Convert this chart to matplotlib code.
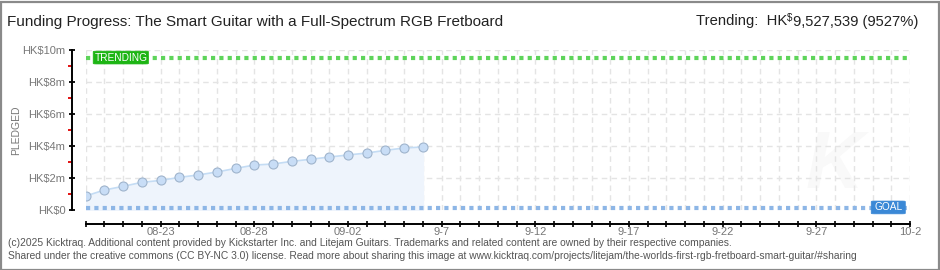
import matplotlib
matplotlib.use("Agg")
import matplotlib.pyplot as plt
import matplotlib.dates as mdates
from matplotlib.patches import FancyBboxPatch
import datetime as dt

# Daily pledged totals (HK$ millions)
dates = ["2025-08-19", "2025-08-20", "2025-08-21", "2025-08-22", "2025-08-23",
         "2025-08-24", "2025-08-25", "2025-08-26", "2025-08-27", "2025-08-28",
         "2025-08-29", "2025-08-30", "2025-08-31", "2025-09-01", "2025-09-02",
         "2025-09-03", "2025-09-04", "2025-09-05", "2025-09-06"]
pledged_m = [0.875, 1.25, 1.48, 1.73, 1.85, 2.04, 2.19, 2.375, 2.60, 2.81,
             2.875, 3.04, 3.17, 3.31, 3.44, 3.56, 3.73, 3.875, 3.94]
goal_m = 0.1
trending_m = 9.527539
start_date = "2025-08-19"
end_date = "2025-10-02"
ytick_vals = [0, 2, 4, 6, 8, 10]
ytick_labels = ["HK$0", "HK$2m", "HK$4m", "HK$6m", "HK$8m", "HK$10m"]
xtick_dates = ["2025-08-23", "2025-08-28", "2025-09-02", "2025-09-07", "2025-09-12",
               "2025-09-17", "2025-09-22", "2025-09-27", "2025-10-02"]
xtick_labels = ["08-23", "08-28", "09-02", "9-7", "9-12", "9-17", "9-22", "9-27", "10-2"]

FONT = ["Liberation Sans", "DejaVu Sans"]
GREY = "#777777"
plt.rcParams["font.family"] = FONT

def d(s):
    return dt.datetime.strptime(s, "%Y-%m-%d")

x = [d(s) for s in dates]
x0, x1 = d(start_date), d(end_date)

W, H = 940, 270
fig = plt.figure(figsize=(W / 100, H / 100), dpi=100)
fig.patch.set_facecolor("white")

L, R, T, B = 85.7, 910, 50, 210
ax = fig.add_axes([L / W, 1 - B / H, (R - L) / W, (B - T) / H])
ax.set_facecolor("white")
ax.set_xlim(x0, x1)
ax.set_ylim(0, 10)

# faint watermark letter in the lower right
ax.text(d("2025-09-28"), 2.7, "K", fontsize=58, fontweight="bold", style="italic",
        color="#f9f9f9", ha="center", va="center", zorder=0)

# grid: every day vertically, every HK$2m horizontally
all_days = [x0 + dt.timedelta(days=i) for i in range((x1 - x0).days + 1)]
for day in all_days:
    ax.axvline(day, color="#e4e4e4", lw=1, dashes=(4, 3), zorder=0.5)
for v in ytick_vals[1:]:
    ax.axhline(v, color="#e4e4e4", lw=1, dashes=(4, 3), zorder=0.5)

# pledged series
ax.fill_between(x, 0, pledged_m, color="#eef4fc", zorder=1)
ax.plot(x, pledged_m, color="#c4dcf4", lw=1.2, zorder=2)
ax.plot(x, pledged_m, ls="none", marker="o", ms=6.5, mfc="#c8ddf6",
        mec="#9fb4cc", mew=0.8, zorder=3)

# goal and trending lines
ax.plot([x0, x1], [goal_m, goal_m], color="#8db6e6", lw=3, dashes=(1, 1),
        dash_capstyle="butt", zorder=2, clip_on=False)
ax.plot([x0, x1], [trending_m, trending_m], color="#5ed45a", lw=3, dashes=(1, 1),
        dash_capstyle="butt", zorder=2, clip_on=False)

def tag(xd, yv, text, color, width_days):
    xn = mdates.date2num(xd)
    box = FancyBboxPatch((xn, yv - 0.4), width_days, 0.8,
                         boxstyle="round,pad=0,rounding_size=0.15",
                         mutation_aspect=1 / 5,
                         fc=color, ec=color, lw=0.5, zorder=5, clip_on=False)
    ax.add_patch(box)
    ax.text(xn + width_days / 2, yv, text, color="white", fontsize=7.3,
            ha="center", va="center", zorder=6)

tag(d("2025-08-19") + dt.timedelta(days=0.4), trending_m, "TRENDING", "#1db514", 2.95)
tag(d("2025-09-29") + dt.timedelta(days=0.93), 0.16, "GOAL", "#3a88d6", 1.82)

# axes styling
for s in ["top", "right"]:
    ax.spines[s].set_visible(False)
ax.spines["left"].set_position(("outward", 9.7))
ax.spines["bottom"].set_position(("outward", 10))
ax.spines["left"].set_linewidth(1.4)
ax.spines["bottom"].set_linewidth(1.4)

ax.set_yticks(ytick_vals)
ax.set_yticklabels(ytick_labels)
ax.set_yticks([1, 3, 5, 7, 9], minor=True)
ax.tick_params(axis="y", which="major", direction="inout", length=5, width=1.3,
               labelsize=8, labelcolor=GREY, pad=2.5)
ax.tick_params(axis="y", which="minor", direction="out", length=3, width=1.3,
               color="#e00000")

ax.set_xticks([mdates.date2num(t) for t in all_days], minor=True)
ax.set_xticks([mdates.date2num(d(t)) for t in xtick_dates])
ax.set_xticklabels(xtick_labels)
ax.tick_params(axis="x", which="both", direction="inout", length=5, width=1.2,
               labelsize=8, labelcolor=GREY, pad=0)

fig.text(16 / W, 1 - 130 / H, "PLEDGED", rotation=90, color=GREY,
         fontsize=7.5, ha="center", va="center")

# titles
fig.text(7 / W, 1 - 22 / H, "Funding Progress: The Smart Guitar with a Full-Spectrum RGB Fretboard",
         fontsize=11, color="#222222", ha="left", va="center")
t1 = fig.text(918 / W, 1 - 22 / H, "9,527,539 (9527%)", fontsize=10.6,
              color="#222222", ha="right", va="center")
t2 = ax.annotate("$", xy=(0, 0.45), xycoords=t1, fontsize=7,
                 color="#222222", ha="right", va="bottom", annotation_clip=False)
ax.annotate("Trending:  HK", xy=(0, 0), xycoords=t2, xytext=(0, -3.6),
            textcoords="offset points", fontsize=10.6,
            color="#222222", ha="right", va="bottom", annotation_clip=False)

# footer
fig.text(8 / W, 1 - 243 / H,
         "(c)2025 Kicktraq. Additional content provided by Kickstarter Inc. and Litejam Guitars. "
         "Trademarks and related content are owned by their respective companies.",
         fontsize=7.4, color="#555555", ha="left", va="center")
fig.text(8 / W, 1 - 256 / H,
         "Shared under the creative commons (CC BY-NC 3.0) license. Read more about sharing this image at "
         "www.kicktraq.com/projects/litejam/the-worlds-first-rgb-fretboard-smart-guitar/#sharing",
         fontsize=7.4, color="#555555", ha="left", va="center")

# frame around the whole image
fig.add_artist(plt.Rectangle((0.5 / W, 0.5 / H), 1 - 2 / W, 1 - 2 / H, fill=False,
                             ec="#8a8a8a", lw=1.6, transform=fig.transFigure))

fig.savefig("out.png", dpi=100, facecolor="white")
